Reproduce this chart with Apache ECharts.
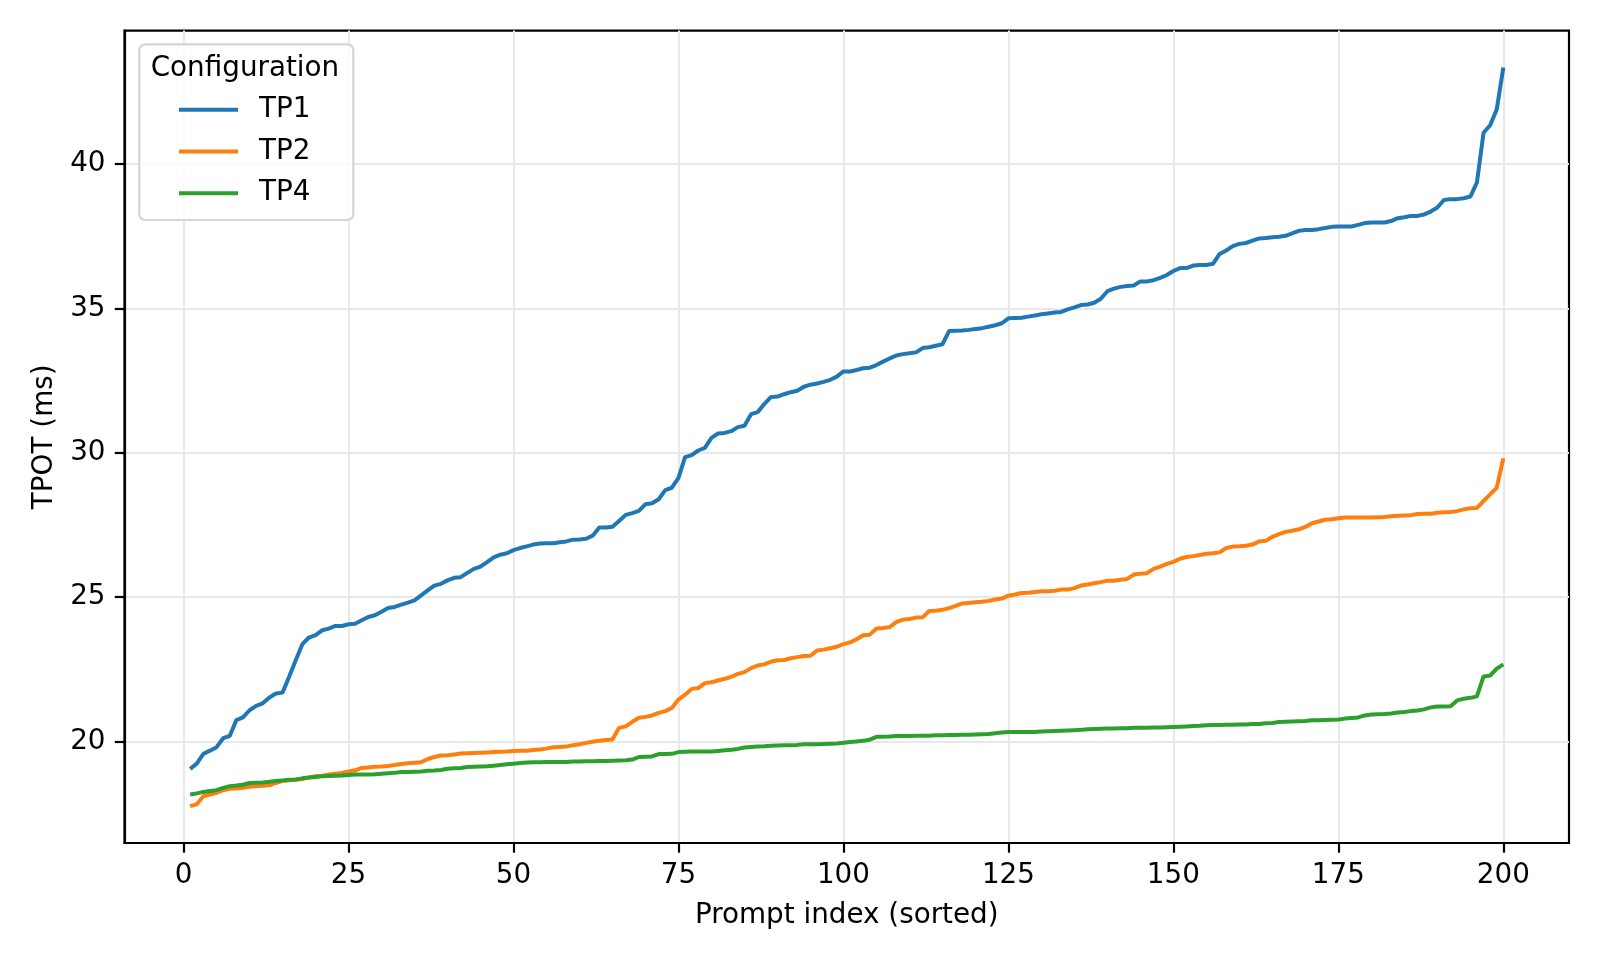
<!DOCTYPE html>
<html>
<head>
<meta charset="utf-8">
<title>TPOT per prompt</title>
<script src="https://cdn.jsdelivr.net/npm/echarts@6.0.0/dist/echarts.min.js"></script>
<style>
  html, body { margin: 0; padding: 0; background: #fff; }
  #chart { width: 1600px; height: 960px; }
</style>
</head>
<body>
<div id="chart"></div>
<script>
// sorted TPOT (ms) per prompt, index 1..200
const tp1 = [
  19.05, 19.23, 19.57, 19.68, 19.8, 20.11, 20.19, 20.74, 20.83, 21.08,
  21.23, 21.32, 21.52, 21.66, 21.69, 22.24, 22.81, 23.37, 23.6, 23.68,
  23.85, 23.91, 24.0, 24.0, 24.06, 24.08, 24.2, 24.31, 24.37, 24.49,
  24.62, 24.66, 24.74, 24.81, 24.89, 25.06, 25.23, 25.4, 25.46, 25.58,
  25.67, 25.69, 25.84, 25.98, 26.06, 26.21, 26.38, 26.47, 26.52, 26.63,
  26.7, 26.76, 26.82, 26.86, 26.87, 26.87, 26.9, 26.93, 26.99, 27.0,
  27.02, 27.13, 27.41, 27.41, 27.44, 27.64, 27.85, 27.91, 27.99, 28.22,
  28.25, 28.39, 28.71, 28.79, 29.13, 29.85, 29.92, 30.08, 30.17, 30.52,
  30.67, 30.69, 30.75, 30.89, 30.94, 31.34, 31.41, 31.69, 31.93, 31.95,
  32.03, 32.1, 32.15, 32.29, 32.36, 32.4, 32.46, 32.53, 32.64, 32.82,
  32.82, 32.87, 32.93, 32.95, 33.04, 33.16, 33.27, 33.37, 33.42, 33.45,
  33.48, 33.63, 33.66, 33.71, 33.76, 34.22, 34.23, 34.24, 34.26, 34.29,
  34.32, 34.37, 34.42, 34.49, 34.66, 34.67, 34.68, 34.72, 34.76, 34.8,
  34.83, 34.86, 34.88, 34.97, 35.04, 35.12, 35.14, 35.2, 35.34, 35.6,
  35.69, 35.75, 35.78, 35.8, 35.94, 35.94, 35.98, 36.06, 36.16, 36.3,
  36.4, 36.4, 36.49, 36.51, 36.51, 36.55, 36.89, 37.01, 37.16, 37.24,
  37.27, 37.35, 37.43, 37.44, 37.47, 37.49, 37.52, 37.6, 37.69, 37.72,
  37.72, 37.75, 37.79, 37.83, 37.84, 37.84, 37.84, 37.9, 37.96, 37.98,
  37.98, 37.98, 38.03, 38.13, 38.16, 38.21, 38.21, 38.26, 38.36, 38.5,
  38.76, 38.79, 38.79, 38.82, 38.88, 39.37, 41.09, 41.35, 41.9, 43.35
]
const tp2 = [
  17.76, 17.82, 18.1, 18.16, 18.22, 18.31, 18.36, 18.37, 18.39, 18.43,
  18.45, 18.46, 18.48, 18.56, 18.63, 18.65, 18.67, 18.7, 18.75, 18.79,
  18.81, 18.85, 18.88, 18.91, 18.96, 19.0, 19.08, 19.1, 19.12, 19.13,
  19.15, 19.18, 19.22, 19.24, 19.26, 19.28, 19.39, 19.46, 19.51, 19.52,
  19.55, 19.58, 19.59, 19.6, 19.61, 19.62, 19.63, 19.64, 19.65, 19.67,
  19.68, 19.68, 19.7, 19.72, 19.75, 19.8, 19.81, 19.82, 19.87, 19.9,
  19.95, 19.99, 20.02, 20.05, 20.07, 20.47, 20.52, 20.68, 20.82, 20.85,
  20.9, 20.99, 21.05, 21.16, 21.45, 21.62, 21.82, 21.85, 22.02, 22.05,
  22.11, 22.17, 22.24, 22.34, 22.4, 22.54, 22.63, 22.67, 22.76, 22.81,
  22.82, 22.88, 22.92, 22.96, 22.97, 23.15, 23.18, 23.23, 23.28, 23.37,
  23.43, 23.54, 23.68, 23.7, 23.91, 23.93, 23.96, 24.13, 24.22, 24.24,
  24.29, 24.3, 24.52, 24.53, 24.56, 24.62, 24.7, 24.78, 24.8, 24.82,
  24.84, 24.87, 24.92, 24.95, 25.05, 25.09, 25.14, 25.15, 25.18, 25.2,
  25.2, 25.22, 25.26, 25.26, 25.31, 25.4, 25.44, 25.48, 25.52, 25.57,
  25.57, 25.6, 25.63, 25.78, 25.81, 25.83, 25.98, 26.06, 26.15, 26.22,
  26.33, 26.39, 26.42, 26.46, 26.5, 26.52, 26.55, 26.7, 26.75, 26.76,
  26.78, 26.82, 26.93, 26.95, 27.09, 27.18, 27.26, 27.3, 27.35, 27.43,
  27.56, 27.62, 27.68, 27.7, 27.73, 27.76, 27.76, 27.76, 27.76, 27.76,
  27.77, 27.78, 27.8, 27.82, 27.83, 27.84, 27.88, 27.89, 27.89, 27.92,
  27.94, 27.95, 27.98, 28.04, 28.08, 28.09, 28.33, 28.56, 28.79, 29.81
]
const tp4 = [
  18.16, 18.2, 18.25, 18.28, 18.31, 18.39, 18.45, 18.47, 18.5, 18.56,
  18.57, 18.58, 18.6, 18.63, 18.65, 18.67, 18.68, 18.72, 18.75, 18.77,
  18.79, 18.8, 18.81, 18.82, 18.84, 18.85, 18.85, 18.85, 18.86, 18.88,
  18.9, 18.91, 18.94, 18.94, 18.95, 18.96, 18.98, 18.99, 19.01, 19.05,
  19.07, 19.08, 19.11, 19.12, 19.13, 19.14, 19.16, 19.18, 19.21, 19.23,
  19.25, 19.27, 19.28, 19.28, 19.29, 19.29, 19.29, 19.29, 19.3, 19.3,
  19.31, 19.31, 19.32, 19.32, 19.33, 19.34, 19.35, 19.37, 19.46, 19.47,
  19.48, 19.56, 19.56, 19.57, 19.63, 19.64, 19.65, 19.65, 19.65, 19.65,
  19.67, 19.69, 19.71, 19.74, 19.79, 19.81, 19.82, 19.83, 19.85, 19.86,
  19.87, 19.87, 19.88, 19.9, 19.9, 19.9, 19.91, 19.92, 19.93, 19.95,
  19.98, 20.0, 20.02, 20.06, 20.16, 20.16, 20.17, 20.19, 20.19, 20.19,
  20.2, 20.2, 20.2, 20.21, 20.21, 20.22, 20.22, 20.23, 20.23, 20.24,
  20.25, 20.26, 20.28, 20.31, 20.33, 20.33, 20.33, 20.33, 20.33, 20.34,
  20.35, 20.36, 20.37, 20.38, 20.39, 20.4, 20.42, 20.43, 20.44, 20.45,
  20.45, 20.46, 20.46, 20.47, 20.47, 20.47, 20.48, 20.48, 20.49, 20.5,
  20.51, 20.52, 20.53, 20.54, 20.56, 20.57, 20.57, 20.58, 20.58, 20.59,
  20.59, 20.6, 20.6, 20.63, 20.64, 20.67, 20.68, 20.69, 20.7, 20.71,
  20.73, 20.73, 20.74, 20.75, 20.76, 20.79, 20.81, 20.83, 20.9, 20.93,
  20.94, 20.95, 20.97, 21.0, 21.02, 21.05, 21.07, 21.11, 21.18, 21.21,
  21.21, 21.22, 21.42, 21.48, 21.51, 21.56, 22.25, 22.28, 22.52, 22.67
]
const seriesNames = ['TP1', 'TP2', 'TP4']
const seriesColors = ['#1f77b4', '#ff7f0e', '#2ca02c']
const xTicks = [0, 25, 50, 75, 100, 125, 150, 175, 200]
const yTicks = [20, 25, 30, 35, 40]

const promptIdx = tp1.map((v, i) => i + 1)
const FONT = 'DejaVu Sans'
const FS = 27.8

const chart = echarts.init(document.getElementById('chart'), null, { renderer: 'canvas' })

const axisCommon = {
  type: 'value',
  nameLocation: 'middle',
  nameTextStyle: { fontFamily: FONT, fontSize: FS, color: '#000' },
  axisLine: { show: true, onZero: false, lineStyle: { color: '#000', width: 2.2 } },
  axisTick: { show: true, length: 9.7, lineStyle: { color: '#000', width: 2.2 } },
  splitLine: { show: true, lineStyle: { color: '#e8e8e8', width: 2 } }
}

const option = {
  animation: false,
  backgroundColor: '#fff',
  grid: {
    left: 124.5, right: 31, top: 30.6, bottom: 117,
    show: true, borderColor: '#000', borderWidth: 2.2,
    containLabel: false, outerBoundsMode: 'none'
  },
  xAxis: Object.assign({}, axisCommon, {
    name: 'Prompt index (sorted)',
    nameGap: 59,
    min: -8.95, max: 209.95,
    minInterval: 25, maxInterval: 25,
    axisTick: Object.assign({}, axisCommon.axisTick, { customValues: xTicks }),
    axisLabel: {
      customValues: xTicks, margin: 19,
      fontFamily: FONT, fontSize: FS, color: '#000',
      formatter: v => (v % 25 === 0 ? String(v) : '')
    }
  }),
  yAxis: Object.assign({}, axisCommon, {
    name: 'TPOT (ms)',
    nameGap: 64,
    nameRotate: 90,
    min: 16.48, max: 44.63,
    minInterval: 5, maxInterval: 5,
    axisTick: Object.assign({}, axisCommon.axisTick, { customValues: yTicks }),
    axisLabel: {
      customValues: yTicks, margin: 19,
      fontFamily: FONT, fontSize: FS, color: '#000',
      formatter: v => (v % 5 === 0 ? String(v) : '')
    }
  }),
  legend: {
    orient: 'vertical',
    left: 179, top: 95.8,
    padding: 0,
    itemGap: 13.7,
    itemWidth: 59, itemHeight: 4,
    icon: 'rect',
    z: 10,
    data: seriesNames,
    textStyle: { fontFamily: FONT, fontSize: FS, color: '#000', lineHeight: 28, padding: [0, 0, 0, 16] }
  },
  graphic: [
    {
      type: 'rect', z: 9, silent: true,
      shape: { x: 139.3, y: 44.3, width: 214, height: 175.7, r: 6 },
      style: { fill: 'rgba(255,255,255,0.8)', stroke: '#d5d5d5', lineWidth: 2.2 }
    },
    {
      type: 'text', z: 10, silent: true,
      x: 150.7, y: 68.8,
      style: { text: 'Configuration', fontFamily: FONT, fontSize: FS, fill: '#000', verticalAlign: 'middle' }
    }
  ],
  series: [tp1, tp2, tp4].map((vals, k) => ({
    name: seriesNames[k],
    type: 'line',
    data: vals.map((v, i) => [promptIdx[i], v]),
    symbol: 'none',
    showSymbol: false,
    color: seriesColors[k],
    lineStyle: { color: seriesColors[k], width: 4 },
    itemStyle: { color: seriesColors[k] }
  }))
}

chart.setOption(option)
</script>
</body>
</html>
